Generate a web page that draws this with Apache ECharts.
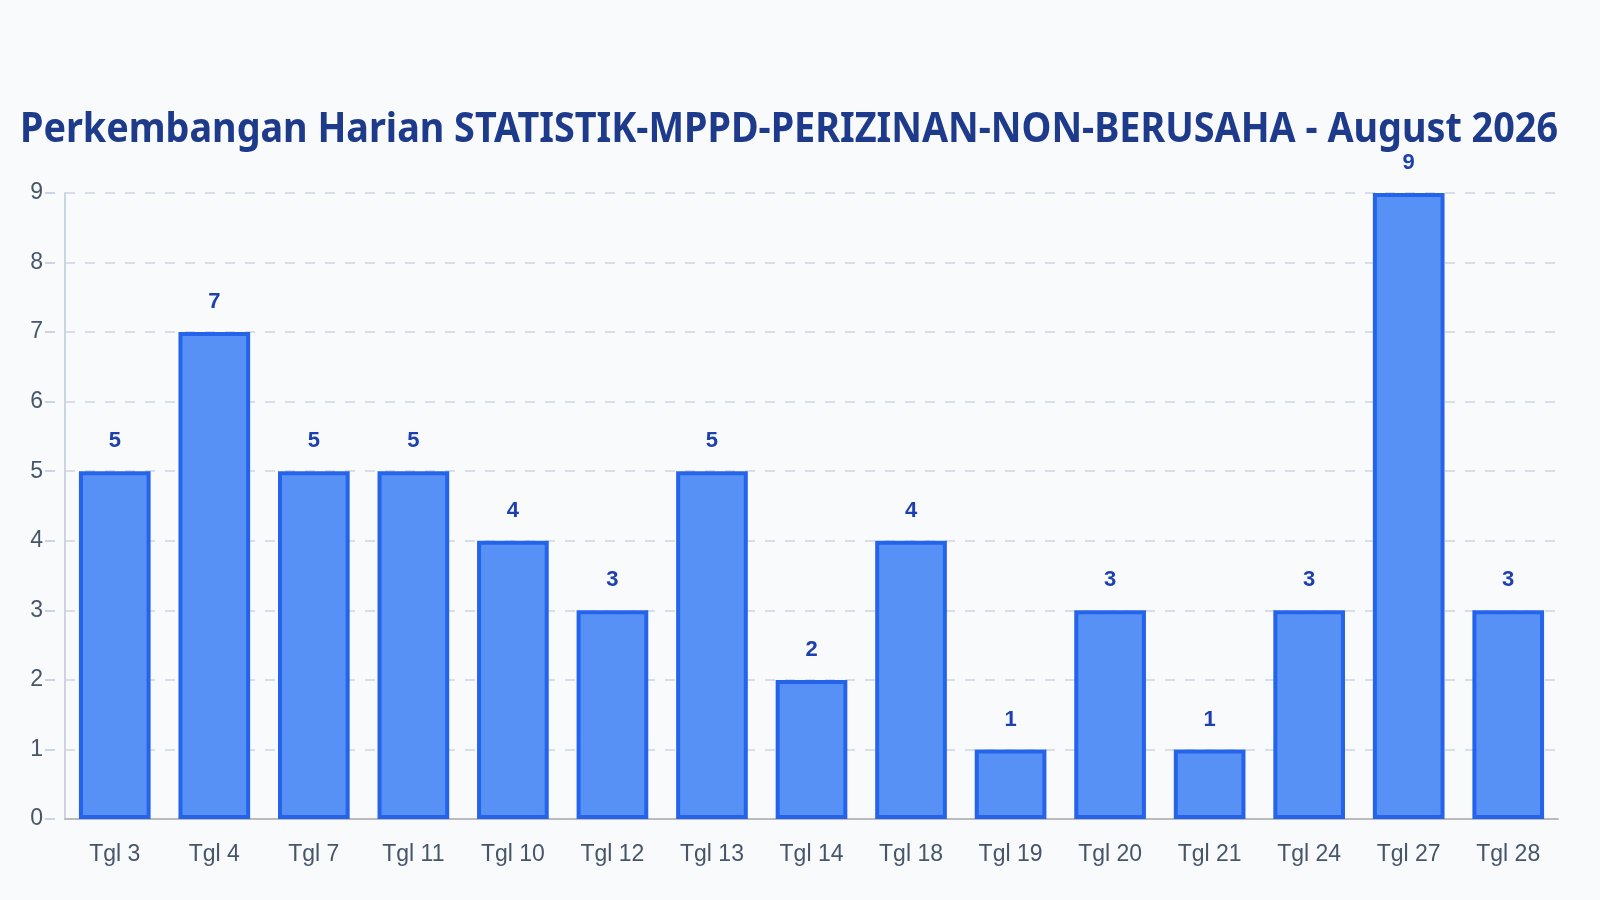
<!DOCTYPE html>
<html>
<head>
<meta charset="utf-8">
<script src="https://cdn.jsdelivr.net/npm/echarts@6/dist/echarts.min.js"></script>
<style>
  html, body { margin: 0; padding: 0; background: #f8fafc; }
  #chart { width: 1600px; height: 900px; }
</style>
</head>
<body>
<div id="chart"></div>
<script>
// data
var categories = ['Tgl 3', 'Tgl 4', 'Tgl 7', 'Tgl 11', 'Tgl 10', 'Tgl 12', 'Tgl 13', 'Tgl 14',
    'Tgl 18', 'Tgl 19', 'Tgl 20', 'Tgl 21', 'Tgl 24', 'Tgl 27', 'Tgl 28'];
var values = [5, 7, 5, 5, 4, 3, 5, 2, 4, 1, 3, 1, 3, 9, 3];
var titleText = 'Perkembangan Harian STATISTIK-MPPD-PERIZINAN-NON-BERUSAHA - August 2026';

var titleFont = 'bold 42px "Noto Sans"';

// title is narrower in the reference, squeeze it to fit
function titleScale() {
    var ctx = document.createElement('canvas').getContext('2d');
    ctx.font = titleFont;
    var w = ctx.measureText(titleText).width;
    var target = 1538;
    return w > target ? target / w : 1;
}

var myChart = echarts.init(document.getElementById('chart'));

var option = {
    backgroundColor: '#f8fafc',
    graphic: [{
        type: 'text',
        x: 789,
        y: 130,
        scaleX: titleScale(),
        style: {
            text: titleText,
            font: titleFont,
            fill: '#1e3a8a',
            textAlign: 'center',
            textVerticalAlign: 'middle'
        }
    }],
    grid: {
        left: 65,
        right: 42,
        top: 193,
        bottom: 81
    },
    xAxis: {
        type: 'category',
        data: categories,
        axisTick: { show: false },
        axisLine: { lineStyle: { color: '#bbbbbf', width: 2 } },
        axisLabel: {
            fontSize: 23,
            color: '#475569',
            fontFamily: 'Liberation Sans',
            margin: 24
        }
    },
    yAxis: {
        type: 'value',
        min: 0,
        max: 9,
        interval: 1,
        axisLine: { show: true, lineStyle: { color: '#cbd5e1', width: 2 } },
        axisTick: {
            show: true,
            length: 20,
            lineStyle: { color: '#cbd5e1', width: 2, type: [10, 10], dashOffset: 10 }
        },
        axisLabel: {
            fontSize: 23,
            color: '#475569',
            fontFamily: 'Liberation Sans',
            margin: 22
        },
        splitLine: {
            lineStyle: { color: '#cbd5e1', type: [10, 10], width: 1.5 }
        }
    },
    series: [{
        type: 'bar',
        data: values,
        barWidth: '72%',
        itemStyle: {
            color: '#5891f5',
            borderColor: '#2563eb',
            borderWidth: 4
        },
        label: {
            show: true,
            position: 'top',
            distance: 19,
            fontSize: 22,
            fontWeight: 'bold',
            fontFamily: 'Liberation Sans',
            color: '#1e40af'
        }
    }]
};

myChart.setOption(option);
</script>
</body>
</html>
